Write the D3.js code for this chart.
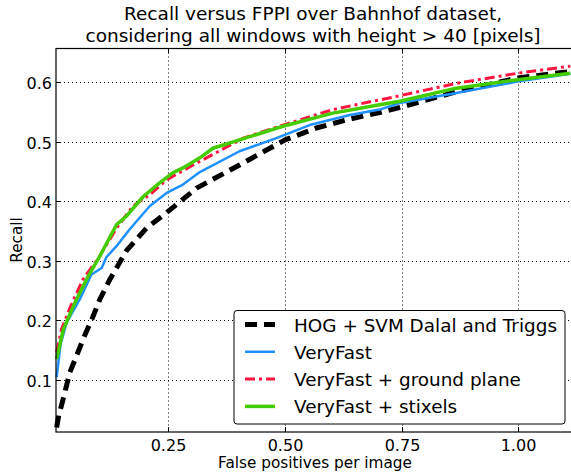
<!DOCTYPE html>
<html>
<head>
<meta charset="utf-8">
<script src="https://cdn.jsdelivr.net/npm/d3@7"></script>
<style>
  body { margin: 0; background: #fff; }
  svg { font-family: "DejaVu Sans", sans-serif; }
</style>
</head>
<body>
<svg width="571" height="473"></svg>
<script>
// x = false positives per image, y = recall
const hogX = [0.0115, 0.016, 0.022, 0.031, 0.04, 0.054, 0.068, 0.086, 0.104, 0.125, 0.161, 0.204, 0.247, 0.311, 0.403, 0.5, 0.567, 0.639, 0.703, 0.749, 0.867, 0.998, 1.111];
const hogY = [0.02, 0.04, 0.057, 0.085, 0.113, 0.14, 0.168, 0.2, 0.235, 0.268, 0.317, 0.355, 0.381, 0.422, 0.461, 0.503, 0.523, 0.538, 0.549, 0.558, 0.584, 0.607, 0.618];

const fastX = [0.0115, 0.02, 0.033, 0.061, 0.086, 0.108, 0.118, 0.14, 0.168, 0.211, 0.247, 0.282, 0.318, 0.403, 0.482, 0.553, 0.639, 0.703, 0.746, 0.867, 0.998, 1.111];
const fastY = [0.104, 0.16, 0.196, 0.235, 0.277, 0.288, 0.306, 0.325, 0.353, 0.392, 0.414, 0.428, 0.449, 0.484, 0.506, 0.528, 0.545, 0.554, 0.565, 0.582, 0.601, 0.614];

const groundX = [0.0115, 0.022, 0.04, 0.068, 0.104, 0.14, 0.175, 0.211, 0.247, 0.311, 0.411, 0.496, 0.603, 0.688, 0.703, 0.867, 0.998, 1.111];
const groundY = [0.146, 0.185, 0.221, 0.269, 0.308, 0.355, 0.392, 0.411, 0.436, 0.464, 0.506, 0.528, 0.554, 0.568, 0.57, 0.598, 0.615, 0.627];

const stixX = [0.0115, 0.026, 0.051, 0.079, 0.104, 0.14, 0.161, 0.197, 0.232, 0.261, 0.282, 0.318, 0.346, 0.403, 0.496, 0.603, 0.703, 0.746, 0.867, 0.998, 1.111];
const stixY = [0.135, 0.185, 0.23, 0.274, 0.308, 0.361, 0.375, 0.408, 0.431, 0.448, 0.456, 0.473, 0.489, 0.503, 0.526, 0.548, 0.562, 0.568, 0.59, 0.604, 0.615];

const seriesNames = ["HOG + SVM Dalal and Triggs", "VeryFast", "VeryFast + ground plane", "VeryFast + stixels"];
const xTicks = [0.25, 0.5, 0.75, 1.0];
const yTicks = [0.1, 0.2, 0.3, 0.4, 0.5, 0.6];

const styles = [
    {color: "#000000", width: 5, dash: "12,7"},
    {color: "#1e90ff", width: 2.5, dash: null},
    {color: "#ff1540", width: 3, dash: "10,4,3,4"},
    {color: "#44cc00", width: 3.5, dash: null}
];

const svg = d3.select("svg");
const pLeft = 56, pTop = 48.5, pRight = 572, pBottom = 432;

const scaleX = d3.scaleLinear().domain([0.0102, 1.1125]).range([pLeft, 571]);
const scaleY = d3.scaleLinear().domain([0.0124, 0.6566]).range([pBottom, pTop]);

// title
svg.append("text")
    .attr("x", 313).attr("y", 20)
    .attr("text-anchor", "middle")
    .style("font-size", "18.5px")
    .text("Recall versus FPPI over Bahnhof dataset,");
svg.append("text")
    .attr("x", 313).attr("y", 41.5)
    .attr("text-anchor", "middle")
    .style("font-size", "18.5px")
    .text("considering all windows with height > 40 [pixels]");

// grid
const grid = svg.append("g")
    .attr("stroke", "#000")
    .attr("stroke-width", 1)
    .attr("stroke-dasharray", "1,3");
xTicks.forEach(t => {
    grid.append("line")
        .attr("x1", Math.round(scaleX(t)) + 0.5).attr("x2", Math.round(scaleX(t)) + 0.5)
        .attr("y1", pTop).attr("y2", pBottom);
});
yTicks.forEach(t => {
    grid.append("line")
        .attr("y1", Math.round(scaleY(t)) + 0.5).attr("y2", Math.round(scaleY(t)) + 0.5)
        .attr("x1", pLeft).attr("x2", pRight);
});

// curves
const allX = [hogX, fastX, groundX, stixX];
const allY = [hogY, fastY, groundY, stixY];
const line = d3.line().x(d => scaleX(d[0])).y(d => scaleY(d[1]));

const plot = svg.append("g");
allX.forEach((xs, i) => {
    const pts = xs.map((x, j) => [x, allY[i][j]]);
    plot.append("path")
        .datum(pts)
        .attr("fill", "none")
        .attr("stroke", styles[i].color)
        .attr("stroke-width", styles[i].width)
        .attr("stroke-dasharray", styles[i].dash)
        .attr("stroke-linejoin", "round")
        .attr("d", line);
});

// frame
svg.append("rect")
    .attr("x", pLeft).attr("y", pTop)
    .attr("width", pRight - pLeft).attr("height", pBottom - pTop)
    .attr("fill", "none").attr("stroke", "#000").attr("stroke-width", 1.2);

// ticks (inward, matplotlib style) and labels
const ax = svg.append("g").style("font-size", "16px");
xTicks.forEach(t => {
    const x = Math.round(scaleX(t)) + 0.5;
    ax.append("line").attr("x1", x).attr("x2", x).attr("y1", pBottom).attr("y2", pBottom - 5).attr("stroke", "#000");
    ax.append("line").attr("x1", x).attr("x2", x).attr("y1", pTop).attr("y2", pTop + 5).attr("stroke", "#000");
    ax.append("text").attr("x", x).attr("y", pBottom + 19)
        .attr("text-anchor", "middle").text(t.toFixed(2));
});
yTicks.forEach(t => {
    const y = Math.round(scaleY(t)) + 0.5;
    ax.append("line").attr("x1", pLeft).attr("x2", pLeft + 5).attr("y1", y).attr("y2", y).attr("stroke", "#000");
    ax.append("text").attr("x", pLeft - 4).attr("y", y + 6)
        .attr("text-anchor", "end").text(t.toFixed(1));
});

svg.append("text")
    .attr("x", 315).attr("y", 468)
    .attr("text-anchor", "middle")
    .style("font-size", "15.3px")
    .text("False positives per image");
svg.append("text")
    .attr("transform", "translate(22,240) rotate(-90)")
    .attr("text-anchor", "middle")
    .style("font-size", "15.3px")
    .text("Recall");

// legend
const leg = svg.append("g");
leg.append("rect")
    .attr("x", 234).attr("y", 310.5).attr("width", 331).attr("height", 113.5)
    .attr("rx", 3)
    .attr("fill", "#fff").attr("stroke", "#000").attr("stroke-width", 1);
seriesNames.forEach((name, i) => {
    const y = 324.5 + i * 27.3;
    leg.append("line")
        .attr("x1", 245).attr("x2", 275).attr("y1", y).attr("y2", y)
        .attr("stroke", styles[i].color)
        .attr("stroke-width", styles[i].width)
        .attr("stroke-dasharray", styles[i].dash);
    leg.append("text")
        .attr("x", 294).attr("y", y + 7)
        .style("font-size", "18.4px")
        .text(name);
});
</script>
</body>
</html>
